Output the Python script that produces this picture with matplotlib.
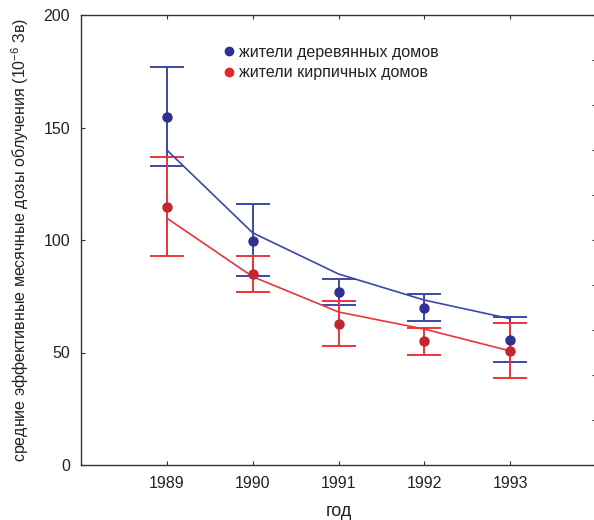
import matplotlib
matplotlib.use("Agg")
import matplotlib.pyplot as plt
from matplotlib.lines import Line2D
import numpy as np

plt.rcParams["font.family"] = ["Liberation Sans", "DejaVu Sans"]
plt.rcParams["mathtext.fontset"] = "custom"
plt.rcParams["mathtext.rm"] = "Liberation Sans"
plt.rcParams["mathtext.it"] = "Liberation Sans:italic"

# --- data ---
years = [1989, 1990, 1991, 1992, 1993]

wood_mean = [154.7, 99.6, 76.9, 69.9, 55.4]
wood_upper = [176.9, 116.0, 82.8, 75.8, 65.8]
wood_lower = [133.0, 84.0, 71.0, 64.0, 45.9]
wood_fit = [140.0, 103.2, 84.9, 73.3, 65.0]

brick_mean = [114.5, 84.9, 62.5, 55.1, 50.7]
brick_upper = [137.0, 92.9, 73.0, 60.7, 63.0]
brick_lower = [92.9, 77.0, 52.9, 48.9, 38.8]
brick_fit = [109.7, 83.7, 68.0, 60.4, 50.7]

labels = ["жители деревянных домов", "жители кирпичных домов"]

# --- colours ---
BLUE_BAR = "#3b48a6"
BLUE_DOT = "#2e3192"
RED_BAR = "#ec343c"
RED_DOT = "#c1272d"
AXIS = "#333333"
TEXT = "#222222"


def draw_series(ax, mean, lower, upper, fit, bar_color, dot_color):
    x = np.array(years)
    m = np.array(mean)
    yerr = [m - np.array(lower), np.array(upper) - m]
    ax.errorbar(x, m, yerr=yerr, fmt="none", ecolor=bar_color,
                elinewidth=1.4, capsize=12, capthick=1.4, zorder=2)
    ax.plot(x, fit, color=bar_color, linewidth=1.2, zorder=3)
    ax.plot(x, m, "o", color=dot_color, markersize=6.5, zorder=4)


def main():
    fig = plt.figure(figsize=(5.94, 5.2), dpi=100)
    fig.patch.set_facecolor("white")
    ax = fig.add_axes([81 / 594, 55 / 520, 515 / 594, 450 / 520])

    draw_series(ax, wood_mean, wood_lower, wood_upper, wood_fit, BLUE_BAR, BLUE_DOT)
    draw_series(ax, brick_mean, brick_lower, brick_upper, brick_fit, RED_BAR, RED_DOT)

    ax.set_xlim(1988, 1994)
    ax.set_ylim(0, 200)
    ax.set_xticks(years)
    ax.set_xticklabels([str(y) for y in years])
    ax.set_yticks([0, 50, 100, 150, 200])

    for s in ax.spines.values():
        s.set_color(AXIS)
        s.set_linewidth(1.0)
    ax.tick_params(direction="in", length=3, width=0.8, color=AXIS,
                   labelsize=11.5, labelcolor=TEXT, top=True, right=False, pad=8)

    # right-hand ticks every 20
    ax2 = ax.twinx()
    ax2.set_ylim(0, 200)
    ax2.set_yticks(np.arange(0, 201, 20))
    ax2.set_yticklabels([])
    ax2.tick_params(direction="in", length=3, width=0.8, color=AXIS)
    for s in ax2.spines.values():
        s.set_visible(False)

    ax.set_xlabel("год", fontsize=13, color=TEXT, labelpad=8.5)
    ax.set_ylabel("средние эффективные месячные дозы облучения (10$^{-6}$ Зв)",
                  fontsize=11.5, color=TEXT)
    ax.yaxis.set_label_coords(-0.097, 0.5)

    handles = [
        Line2D([], [], marker="o", linestyle="none", color=BLUE_DOT, markersize=6),
        Line2D([], [], marker="o", linestyle="none", color="#e8262d", markersize=6),
    ]
    leg = ax.legend(handles, labels, loc="upper left",
                    bbox_to_anchor=(0.266, 0.948), frameon=False,
                    handlelength=0.6, handletextpad=0.3, labelspacing=0.35,
                    fontsize=11.5, borderaxespad=0)
    for t in leg.get_texts():
        t.set_color(TEXT)

    fig.savefig("out.png", dpi=100, facecolor="white")
    plt.close(fig)


if __name__ == "__main__":
    main()
